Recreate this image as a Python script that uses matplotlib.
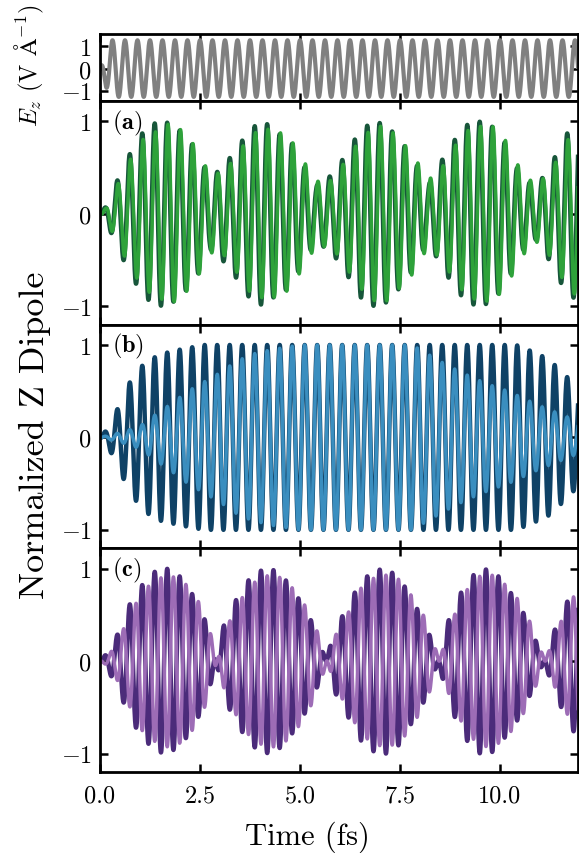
import numpy as np
import matplotlib
matplotlib.use("Agg")
import matplotlib.pyplot as plt

plt.rcParams['font.family'] = 'serif'
plt.rcParams['font.serif'] = ['cmr10']
plt.rcParams['mathtext.fontset'] = 'cm'
plt.rcParams['axes.formatter.use_mathtext'] = True

# carrier period of the laser field (fs) and field amplitude (V/A)
period_fs = 0.3125
field_amp = 1.27
field_ramp_t = [0.0, 0.16, 0.3, 12.0]
field_ramp_a = [0.0, 0.68, 1.0, 1.0]

# envelopes of the dipole signals
a_t = [0, 0.15, 0.4, 0.75, 1.1, 1.45, 1.75, 2.05, 2.4, 2.75, 3.1, 3.45, 3.75, 4.1, 4.4,
       4.75, 5.05, 5.4, 5.8, 6.15, 6.5, 6.85, 7.15, 7.5, 7.8, 8.2, 8.55, 8.9, 9.2, 9.55,
       9.85, 10.2, 10.5, 10.9, 11.3, 11.65, 12.0]
a_dark = [0, 0.08, 0.33, 0.65, 0.9, 1.0, 0.98, 0.88, 0.7, 0.38, 0.52, 0.72, 0.92, 1.0, 0.88,
          0.8, 0.55, 0.3, 0.42, 0.64, 0.9, 1.0, 0.96, 0.8, 0.62, 0.3, 0.58, 0.82, 0.97, 1.0,
          0.93, 0.72, 0.42, 0.28, 0.55, 0.86, 0.95]
a_light = [0, 0.06, 0.28, 0.58, 0.82, 0.9, 0.98, 0.9, 0.72, 0.42, 0.45, 0.65, 0.85, 0.92, 0.9,
           0.82, 0.6, 0.35, 0.36, 0.58, 0.8, 0.94, 0.95, 0.8, 0.66, 0.36, 0.5, 0.75, 0.9, 0.95,
           0.94, 0.76, 0.48, 0.3, 0.48, 0.78, 0.93]

b_dark_t = [0, 0.2, 0.45, 0.75, 1.1, 1.5, 2.0, 2.6, 10.4, 10.8, 11.2, 11.5, 11.8, 12.0]
b_dark = [0, 0.1, 0.32, 0.6, 0.8, 0.9, 0.95, 1.0, 1.0, 0.93, 0.85, 0.73, 0.6, 0.5]
b_light_t = [0, 0.5, 1.0, 1.4, 1.8, 2.2, 2.6, 3.0, 3.4, 3.8, 4.3, 5.0, 7.8, 8.2, 8.6, 9.0,
             9.4, 9.8, 10.2, 10.6, 11.0, 11.4, 11.8, 12.0]
b_light = [0, 0.05, 0.12, 0.25, 0.37, 0.5, 0.6, 0.7, 0.82, 0.9, 0.95, 1.0, 1.0, 0.9, 0.8, 0.71,
           0.63, 0.56, 0.5, 0.42, 0.34, 0.27, 0.2, 0.17]

c_t = [0, 0.2, 0.45, 0.75, 1.05, 1.4, 1.7, 2.05, 2.4, 2.7, 2.9, 3.1, 3.4, 3.75, 4.1,
       4.4, 4.7, 5.05, 5.35, 5.65, 5.85, 6.2, 6.5, 6.85, 7.15, 7.5, 7.8, 8.15, 8.45, 8.75,
       9.15, 9.5, 9.85, 10.2, 10.5, 10.8, 11.1, 11.35, 11.65, 12.0]
c_dark = [0, 0.1, 0.3, 0.62, 0.82, 0.98, 1.0, 0.9, 0.66, 0.37, 0.0, -0.4, -0.66, -0.9, -1.0,
          -0.98, -0.85, -0.62, -0.38, 0.0, 0.32, 0.6, 0.85, 0.98, 1.0, 0.9, 0.66, 0.4, 0.0, -0.5,
          -0.85, -1.0, -0.98, -0.78, -0.6, -0.32, 0.0, 0.32, 0.62, 0.88]
c_light = [0, 0.05, 0.22, 0.5, 0.75, 0.88, 0.93, 0.88, 0.7, 0.42, 0.05, -0.3, -0.58, -0.82, -0.92,
           -0.93, -0.85, -0.66, -0.42, -0.05, 0.25, 0.52, 0.78, 0.9, 0.93, 0.88, 0.7, 0.45, 0.05, -0.4,
           -0.76, -0.92, -0.93, -0.8, -0.64, -0.38, -0.03, 0.26, 0.55, 0.82]

dipole_t0 = 0.43
light_shift = [0.02, 0.0, period_fs / 2]

xticks = [0.0, 2.5, 5.0, 7.5, 10.0]
yticks = [-1, 0, 1]
panel_labels = ['a', 'b', 'c']

t = np.linspace(0, 12, 6001)


def dipole(tk, ak, shift):
    env = np.interp(t, tk, ak)
    return env * np.cos(2 * np.pi * (t - dipole_t0 - shift) / period_fs)


field = field_amp * np.interp(t, field_ramp_t, field_ramp_a) * np.cos(2 * np.pi * t / period_fs)

curves = [
    (dipole(a_t, a_dark, 0), dipole(a_t, a_light, light_shift[0]), '#17563a', '#2ea23a'),
    (dipole(b_dark_t, b_dark, 0), dipole(b_light_t, b_light, light_shift[1]), '#0f4266', '#3a8ebf'),
    (dipole(c_t, c_dark, 0), dipole(c_t, c_light, light_shift[2]), '#4b2b7a', '#9d6cb6'),
]

fig = plt.figure(figsize=(5.79, 8.54), dpi=100)
gs = fig.add_gridspec(4, 1, height_ratios=[67, 224, 224, 224], hspace=0,
                      left=0.1727, right=0.9983, top=0.959, bottom=0.0948)
axes = [fig.add_subplot(gs[i]) for i in range(4)]


def style(ax):
    ax.set_xlim(0, 11.95)
    ax.set_xticks(xticks)
    ax.tick_params(direction='in', top=True, right=True, length=6, width=1.8, labelsize=17.5)
    ax.tick_params(axis='x', pad=9)
    ax.tick_params(axis='y', pad=6)
    for s in ax.spines.values():
        s.set_linewidth(2.0)


ax = axes[0]
ax.plot(t, field, color='#808080', lw=3.0)
ax.set_ylim(-1.45, 1.55)
ax.set_yticks(yticks)
style(ax)
ax.tick_params(labelbottom=False)

for i, (dark, light, cd, cl) in enumerate(curves):
    ax = axes[i + 1]
    ax.plot(t, dark, color=cd, lw=3.2)
    ax.plot(t, light, color=cl, lw=2.5)
    ax.set_ylim(-1.2, 1.22)
    ax.set_yticks(yticks)
    style(ax)
    ax.text(0.025, 0.905, r'$(\mathbf{%s})$' % panel_labels[i], transform=ax.transAxes,
            fontsize=17.5, ha='left', va='center')
    if i < 2:
        ax.tick_params(labelbottom=False)

axes[3].set_xticklabels(['0.0', '2.5', '5.0', '7.5', '10.0'])

fig.text(29 / 579, 1 - 66 / 854, r'$E_z$ (V $\mathrm{\AA}^{-1}$)', rotation=90,
         ha='center', va='center', fontsize=17.5)
fig.text(35 / 579, 1 - 435 / 854, 'Normalized Z Dipole', rotation=90,
         ha='center', va='center', fontsize=26)
fig.text(307 / 579, 1 - 837 / 854, 'Time (fs)', ha='center', va='center', fontsize=22)

fig.savefig('out.png', dpi=100)
